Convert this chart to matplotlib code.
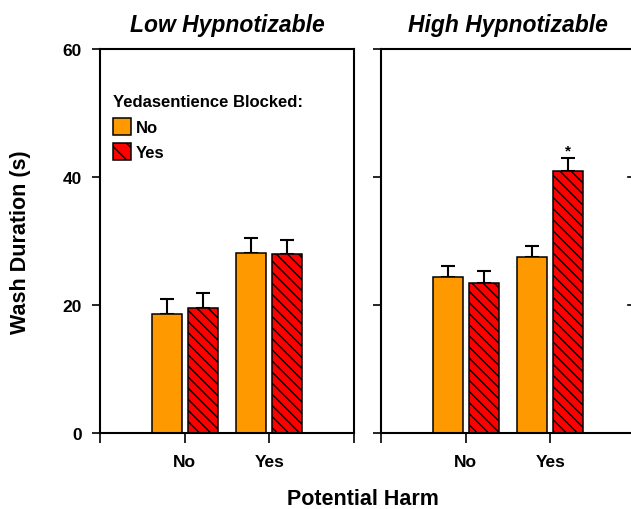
import matplotlib
matplotlib.use("Agg")
import matplotlib.pyplot as plt
from matplotlib.patches import Patch
import numpy as np

plt.rcParams["font.family"] = ["Liberation Sans", "DejaVu Sans"]
plt.rcParams["font.weight"] = "bold"
plt.rcParams["hatch.linewidth"] = 1.0

# data
panels = ["Low Hypnotizable", "High Hypnotizable"]
harm_labels = ["No", "Yes"]
blocked_labels = ["No", "Yes"]
low_no_blocked = [18.6, 28.1]
low_yes_blocked = [19.6, 27.9]
low_no_err = [2.3, 2.4]
low_yes_err = [2.3, 2.2]
high_no_blocked = [24.3, 27.5]
high_yes_blocked = [23.5, 41.0]
high_no_err = [1.8, 1.7]
high_yes_err = [1.8, 1.9]

orange = "#ff9900"
red = "#ff0000"

fig = plt.figure(figsize=(6.31, 5.10), dpi=100)
ax_l = fig.add_axes([100 / 631, 76 / 510, 254 / 631, 384 / 510])
ax_r = fig.add_axes([381 / 631, 76 / 510, 254 / 631, 384 / 510])

x = np.array([1, 2])
w = 0.355
off = 0.213

series = [
    (ax_l, low_no_blocked, low_yes_blocked, low_no_err, low_yes_err),
    (ax_r, high_no_blocked, high_yes_blocked, high_no_err, high_yes_err),
]

for i, (ax, vn, vy, en, ey) in enumerate(series):
    ax.bar(x - off, vn, w, color=orange, edgecolor="black", linewidth=1.1, zorder=2)
    ax.bar(x + off, vy, w, color=red, edgecolor="black", linewidth=1.1,
           hatch="\\\\\\", zorder=2)
    ax.errorbar(x - off, vn, yerr=[np.zeros(2), en], fmt="none", ecolor="black",
                elinewidth=1.5, capsize=4.7, capthick=1.5, zorder=1)
    ax.errorbar(x + off, vy, yerr=[np.zeros(2), ey], fmt="none", ecolor="black",
                elinewidth=1.5, capsize=4.7, capthick=1.5, zorder=1)
    ax.set_xlim(0, 3)
    ax.set_ylim(0, 60)
    ax.set_xticks([0, 1, 2, 3])
    ax.set_xticklabels(["", harm_labels[0], harm_labels[1], ""])
    ax.set_yticks([0, 20, 40, 60])
    for s in ax.spines.values():
        s.set_linewidth(1.5)
    ax.tick_params(axis="x", direction="out", length=7, width=1.2, pad=8,
                   labelsize=12.5)
    ax.tick_params(axis="y", direction="out", length=6, width=1.2, pad=7,
                   labelsize=12.5)
    ax.set_title(panels[i], fontsize=16.5, fontweight="bold", style="italic", pad=13)

ax_r.tick_params(axis="y", labelleft=False)
# inward ticks on the right spine of the right panel
for yv in [20, 40]:
    ax_r.plot([2.92, 3.0], [yv, yv], color="black", lw=1.2, clip_on=False)

# significance marker
ax_r.text(x[1] + off, high_yes_blocked[1] + high_yes_err[1] + 0.2, "*",
          ha="center", va="bottom", fontsize=11, fontweight="bold")

handles = [
    Patch(facecolor=orange, edgecolor="black", linewidth=1.1),
    Patch(facecolor=red, edgecolor="black", linewidth=1.1, hatch="\\\\"),
]
ax_l.legend(handles, blocked_labels, title="Yedasentience Blocked:",
            loc="upper left", bbox_to_anchor=(0.051, 0.882), frameon=False,
            borderpad=0, borderaxespad=0, alignment="left",
            handlelength=1.08, handleheight=1.2, handletextpad=0.3,
            labelspacing=0.5,
            prop={"weight": "bold", "size": 12},
            title_fontproperties={"weight": "bold", "size": 12})

fig.text(21 / 631, 0.525, "Wash Duration (s)", rotation=90, ha="center",
         va="center", fontsize=15.5, fontweight="bold")
fig.text(363 / 631, 5 / 510, "Potential Harm", ha="center", va="baseline",
         fontsize=15.5, fontweight="bold")

fig.savefig("out.png", dpi=100)
